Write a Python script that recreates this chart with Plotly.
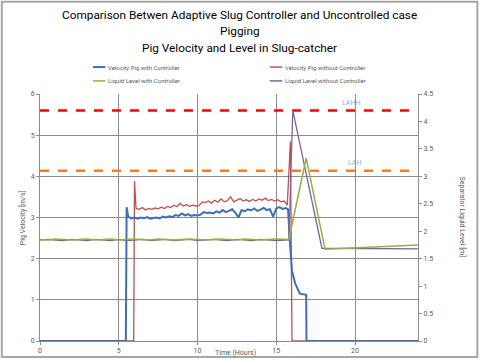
import plotly.graph_objects as go

# ---------------- data ----------------
vel_ctrl_t = [0, 5.45, 5.50, 5.60, 5.8, 6.0, 6.2, 6.4, 6.6, 6.8, 7.0, 7.2, 7.4, 7.6, 7.8, 8.0, 8.2, 8.4, 8.6, 8.8,
              9.0, 9.2, 9.4, 9.6, 9.8, 10.0, 10.2, 10.4, 10.6, 10.8, 11.0, 11.2, 11.4, 11.6, 11.8, 12.0, 12.2,
              12.4, 12.6, 12.8, 13.0, 13.2, 13.4, 13.6, 13.8, 14.0, 14.2, 14.4, 14.6, 14.8, 15.0, 15.2, 15.4,
              15.6, 15.75, 15.85, 16.0, 16.2, 16.5, 16.9, 16.92, 24]
vel_ctrl = [0, 0, 3.25, 3.02, 2.98, 3.0, 2.97, 3.0, 2.98, 3.01, 2.97, 2.99, 3.0, 2.98, 3.02, 3.0, 3.03, 3.01, 3.06, 3.04,
            3.1, 3.05, 3.08, 3.04, 3.06, 3.05, 3.07, 3.13, 3.11, 3.12, 3.1, 3.15, 3.12, 3.18, 3.13, 3.16, 3.2,
            3.12, 3.0, 3.18, 3.15, 3.2, 3.17, 3.22, 3.16, 3.19, 3.23, 3.18, 3.2, 3.02, 3.22, 3.25, 3.21,
            3.23, 3.2, 2.5, 1.7, 1.4, 1.15, 1.12, 0, 0]

vel_noctrl_t = [0, 5.95, 6.0, 6.1, 6.3, 6.5, 6.7, 6.9, 7.1, 7.3, 7.5, 7.7, 7.9, 8.1, 8.3, 8.5, 8.7, 8.9, 9.1, 9.3,
                9.5, 9.7, 9.9, 10.1, 10.3, 10.5, 10.7, 10.9, 11.1, 11.3, 11.5, 11.7, 11.9, 12.1, 12.3, 12.5,
                12.7, 12.9, 13.1, 13.3, 13.5, 13.7, 13.9, 14.1, 14.3, 14.5, 14.7, 14.9, 15.1, 15.3, 15.5, 15.7,
                15.9, 16.0, 24]
vel_noctrl = [0, 0, 3.88, 3.22, 3.2, 3.24, 3.18, 3.22, 3.2, 3.23, 3.21, 3.25, 3.22, 3.27, 3.24, 3.3, 3.26, 3.34,
              3.28, 3.31, 3.27, 3.3, 3.28, 3.29, 3.38, 3.36, 3.4, 3.35, 3.42, 3.37, 3.45, 3.38, 3.41, 3.5, 3.38,
              3.42, 3.46, 3.4, 3.43, 3.39, 3.44, 3.4, 3.45, 3.42, 3.47, 3.41, 3.44, 3.4, 3.43, 3.38, 3.4, 3.3,
              4.85, 0, 0]

lvl_ctrl_t = [0, 0.5, 1, 1.5, 2, 2.5, 3, 3.5, 4, 4.5, 5, 5.5, 6, 6.5, 7, 7.5, 8, 8.5, 9, 9.5, 10, 10.5, 11,
              11.5, 12, 12.5, 13, 13.5, 14, 14.5, 15, 15.8, 16.9, 18.1, 24]
lvl_ctrl = [1.85, 1.84, 1.86, 1.85, 1.84, 1.85, 1.86, 1.84, 1.85, 1.86, 1.84, 1.85, 1.86, 1.85, 1.84, 1.86,
            1.85, 1.84, 1.85, 1.86, 1.85, 1.84, 1.85, 1.86, 1.85, 1.84, 1.86, 1.85, 1.84, 1.85, 1.86, 1.85,
            3.33, 1.67, 1.75]

lvl_noctrl_t = [0, 0.5, 1, 1.5, 2, 2.5, 3, 3.5, 4, 4.5, 5, 5.5, 6, 6.5, 7, 7.5, 8, 8.5, 9, 9.5, 10, 10.5, 11,
                11.5, 12, 12.5, 13, 13.5, 14, 14.5, 15, 15.8, 16.05, 17.9, 24]
lvl_noctrl = [1.84, 1.85, 1.84, 1.83, 1.85, 1.84, 1.83, 1.85, 1.84, 1.83, 1.85, 1.83, 1.84, 1.85, 1.83, 1.84,
              1.85, 1.83, 1.84, 1.85, 1.83, 1.84, 1.85, 1.84, 1.83, 1.85, 1.84, 1.83, 1.85, 1.84, 1.83, 1.84,
              4.2, 1.69, 1.68]

alarm_t = [0, 24]
LAHH = 4.2
LAH = 3.1

x_ticks = [0, 5, 10, 15, 20]
title_lines = ["Comparison Betwen Adaptive Slug Controller and Uncontrolled case", "Pigging",
               "Pig Velocity and Level in Slug-catcher"]
series_names = ["Velocity Pig with Controller", "Velocity Pig without Controller",
                "Liquid Level with Controller", "Liquid Level without Controller"]
series_colors = ["#3E70B8", "#C0504D", "#8DB346", "#7F63A1"]

# ---------------- figure ----------------
FONT = "Roboto"
TICKC = "#595959"
GRID = "#8c8c8c"

fig = go.Figure()
fig.add_trace(go.Scatter(x=alarm_t, y=[LAHH, LAHH], yaxis="y2", mode="lines",
                         line=dict(color="#FF0000", width=2.5, dash="dash"), hoverinfo="skip"))
fig.add_trace(go.Scatter(x=alarm_t, y=[LAH, LAH], yaxis="y2", mode="lines",
                         line=dict(color="#F07E26", width=2.5, dash="dash"), hoverinfo="skip"))
fig.add_trace(go.Scatter(x=lvl_noctrl_t, y=lvl_noctrl, yaxis="y2", mode="lines",
                         name=series_names[3], line=dict(color=series_colors[3], width=1.3)))
fig.add_trace(go.Scatter(x=lvl_ctrl_t, y=lvl_ctrl, yaxis="y2", mode="lines",
                         name=series_names[2], line=dict(color=series_colors[2], width=1.5)))
fig.add_trace(go.Scatter(x=vel_noctrl_t, y=vel_noctrl, mode="lines",
                         name=series_names[1], line=dict(color=series_colors[1], width=1.3)))
fig.add_trace(go.Scatter(x=vel_ctrl_t, y=vel_ctrl, mode="lines",
                         name=series_names[0], line=dict(color=series_colors[0], width=2)))

annotations = []
for i, line in enumerate(title_lines):
    annotations.append(dict(text=line, xref="paper", yref="paper", x=0.529, y=[1.320, 1.255, 1.186][i],
                            xanchor="center", yanchor="middle", showarrow=False,
                            font=dict(family=FONT, size=11.8, color="#000000")))

# manual legend (2 x 2)
shapes = []
leg_x = [0.140, 0.608]
leg_y = [1.109, 1.053]
for i, (nm, col) in enumerate(zip(series_names, series_colors)):
    cx = leg_x[i % 2]
    cy = leg_y[i // 2]
    shapes.append(dict(type="line", xref="paper", yref="paper", x0=cx, x1=cx + 0.033, y0=cy, y1=cy,
                       line=dict(color=col, width=2 if i == 0 else 1.5)))
    annotations.append(dict(text=nm, xref="paper", yref="paper", x=cx + 0.035, y=cy, xanchor="left",
                            yanchor="middle", showarrow=False, font=dict(family=FONT, size=6, color=TICKC)))

annotations += [
    dict(text="Pig Velocity [m/s]", xref="paper", yref="paper", x=-0.063, y=0.5, textangle=-90,
         showarrow=False, font=dict(size=7, color=TICKC)),
    dict(text="Separator Liquid Level [m]", xref="paper", yref="paper", x=1.136, y=0.5, textangle=90,
         showarrow=False, font=dict(size=7, color=TICKC)),
    dict(text="Time (Hours)", xref="paper", yref="paper", x=0.516, y=-0.05, yanchor="middle",
         showarrow=False, font=dict(size=7, color=TICKC)),
    dict(text="LAHH", x=19.75, y=LAHH, yref="y2", yshift=7, showarrow=False,
         font=dict(size=7, color="#8DB4E2")),
    dict(text="LAH", x=19.95, y=LAH, yref="y2", yshift=8, showarrow=False,
         font=dict(size=7, color="#8DB4E2")),
]

shapes.append(dict(type="rect", xref="paper", yref="paper", x0=-0.101, x1=1.157, y0=-0.065, y1=1.373,
                   line=dict(color="#a6a6a6", width=2), fillcolor="rgba(0,0,0,0)", layer="below"))

fig.update_layout(
    width=480, height=360,
    margin=dict(l=40, r=62, t=94, b=19, autoexpand=False),
    showlegend=False,
    paper_bgcolor="white", plot_bgcolor="white",
    font=dict(family=FONT, size=7, color=TICKC),
    xaxis=dict(range=[0, 24], tickvals=x_ticks, showgrid=True, gridcolor=GRID, gridwidth=1.2,
               zeroline=False, showline=True, linecolor=GRID, ticks="outside", ticklen=3,
               tickcolor=GRID, tickfont=dict(size=7, color=TICKC), automargin=False),
    yaxis=dict(range=[0, 6], dtick=1, showgrid=True, gridcolor=GRID, gridwidth=1.2, zeroline=False,
               showline=True, linecolor=GRID, ticks="outside", ticklen=3, tickcolor=GRID,
               tickfont=dict(size=7, color=TICKC), automargin=False),
    yaxis2=dict(range=[0, 4.5], dtick=0.5, overlaying="y", side="right", showgrid=False, zeroline=False,
                showline=True, linecolor=GRID, ticks="outside", ticklen=3, tickcolor=GRID,
                tickfont=dict(size=7, color=TICKC), automargin=False),
    annotations=annotations,
    shapes=shapes,
)

fig.write_html("out.html", config={"displayModeBar": False},
               post_script="document.body.style.margin='0';document.body.style.overflow='hidden';")
